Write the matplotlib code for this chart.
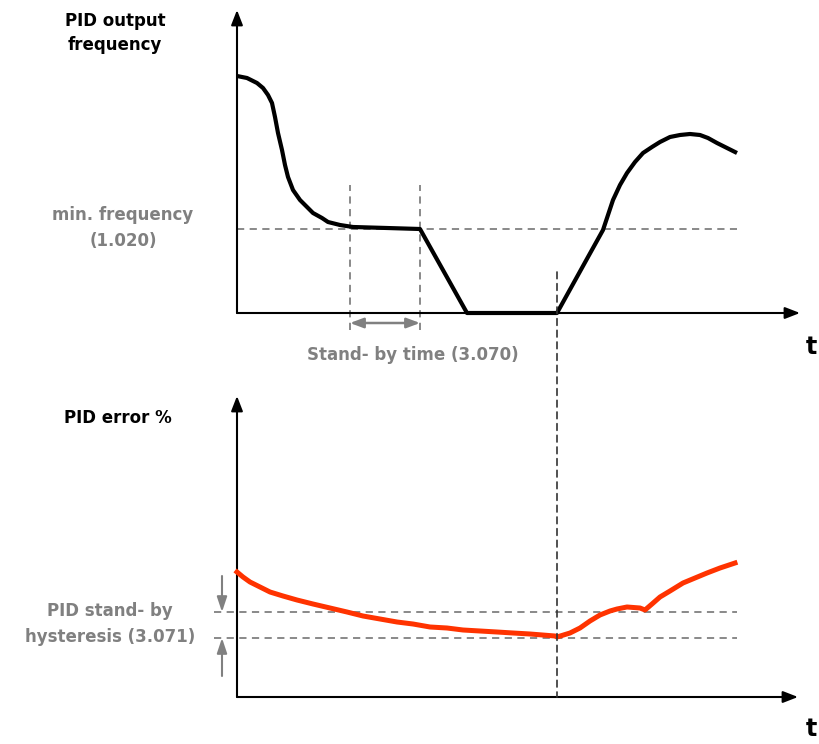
import matplotlib.pyplot as plt
from matplotlib.patches import ConnectionPatch

# top panel: PID output frequency (t, f)
freq_t = [0, 10, 20, 26, 31, 35, 38, 41, 45, 48, 51, 56, 63, 70, 76, 85, 91,
          103, 116, 150, 183, 230, 320,
          351, 366, 371, 376, 383, 390, 398, 406, 415, 423, 433, 443, 453,
          463, 471, 480, 490, 500]
freq_f = [237, 235, 230, 225, 218, 210, 196, 180, 163, 148, 136, 123, 113, 106, 100, 95, 91,
          88, 86, 85, 84, 0, 0,
          56, 83, 98, 113, 128, 140, 151, 160, 166, 171, 176, 178, 179,
          178, 175, 170, 165, 160]
min_freq = 84
standby_start = 113
standby_end = 183
stop_t = 320

# bottom panel: PID error %
err_t = [0, 6, 13, 23, 33, 46, 60, 76, 93, 110, 126, 143, 160, 176, 193, 210,
         226, 243, 260, 276, 293, 318, 320,
         333, 343, 353, 363, 373, 380, 390, 403, 408, 415, 423, 433, 446, 458,
         470, 483, 498]
err_e = [125, 120, 115, 110, 105, 101, 97, 93, 89, 85, 81, 78, 75, 73, 70, 69,
         67, 66, 65, 64, 63, 61, 60,
         64, 69, 76, 82, 86, 88, 90, 89, 87, 93, 100, 106, 114, 119,
         124, 129, 134]
hyst_hi = 85
hyst_lo = 59

W, H = 819, 744
GRAY = '#808080'
RED = '#ff3300'
FONT = 'DejaVu Sans'

fig = plt.figure(figsize=(W / 100, H / 100), dpi=100)


def px_axes(x0, y0, x1, y1):
    # x0,y0 = origin pixel, x1 = x arrow tip, y1 = y arrow tip
    ax = fig.add_axes([x0 / W, 1 - y0 / H, (x1 - x0) / W, (y0 - y1) / H])
    ax.set_xlim(0, x1 - x0)
    ax.set_ylim(0, y0 - y1)
    ax.axis('off')
    arr = dict(arrowstyle='-|>,head_length=0.9,head_width=0.35', color='black', lw=1.5,
               shrinkA=0, shrinkB=0)
    ax.annotate('', xy=(1, 0), xytext=(0, 0), xycoords='axes fraction', arrowprops=arr)
    ax.annotate('', xy=(0, 1), xytext=(0, 0), xycoords='axes fraction', arrowprops=arr)
    return ax


ax1 = px_axes(237, 313, 800, 10)
ax2 = px_axes(237, 697, 798, 396)

# top panel
ax1.plot([0, 500], [min_freq, min_freq], ls=(0, (4, 3)), color=GRAY, lw=1.3)
for tt in (standby_start, standby_end):
    ax1.plot([tt, tt], [-17, 128], ls=(0, (4, 3)), color=GRAY, lw=1.3, clip_on=False)
ax1.plot(freq_t, freq_f, color='black', lw=3, solid_joinstyle='round',
         solid_capstyle='butt', clip_on=False, zorder=3)
ax1.annotate('', xy=(standby_start, -10), xytext=(standby_end, -10),
             arrowprops=dict(arrowstyle='<|-|>,head_length=0.8,head_width=0.3',
                             color=GRAY, lw=1.8, shrinkA=0, shrinkB=0),
             annotation_clip=False)

# bottom panel
for v in (hyst_hi, hyst_lo):
    ax2.plot([-23, 500], [v, v], ls=(0, (4, 3)), color=GRAY, lw=1.3, clip_on=False)
ax2.plot(err_t, err_e, color=RED, lw=3.6, solid_joinstyle='round', clip_on=False, zorder=3)
ha = dict(arrowstyle='-|>,head_length=0.9,head_width=0.3', color=GRAY, lw=1.5,
          shrinkA=0, shrinkB=0)
ax2.annotate('', xy=(-15, hyst_hi), xytext=(-15, 121), arrowprops=ha, annotation_clip=False)
ax2.annotate('', xy=(-15, hyst_lo), xytext=(-15, 21), arrowprops=ha, annotation_clip=False)

# stop line across both panels
con = ConnectionPatch(xyA=(stop_t, 41), coordsA=ax1.transData,
                      xyB=(stop_t, 0), coordsB=ax2.transData,
                      ls=(0, (4, 3)), color='#333333', lw=1.2, zorder=1)
fig.add_artist(con)

txt = dict(fontfamily=FONT, fontweight='bold', fontsize=12, ha='center', va='center',
           linespacing=1.5)
fig.text(115 / W, 1 - 33 / H, 'PID output\nfrequency', color='black', **txt)
fig.text(123 / W, 1 - 228 / H, 'min. frequency\n(1.020)', color=GRAY, **txt)
fig.text(413 / W, 1 - 355 / H, 'Stand- by time (3.070)', color=GRAY, **txt)
fig.text(118 / W, 1 - 418 / H, 'PID error %', color='black', **txt)
fig.text(110 / W, 1 - 624 / H, 'PID stand- by\nhysteresis (3.071)', color=GRAY, **txt)
tkw = dict(fontfamily=FONT, fontweight='bold', fontsize=17, ha='center', va='center')
fig.text(811 / W, 1 - 347 / H, 't', **tkw)
fig.text(811 / W, 1 - 729 / H, 't', **tkw)

fig.savefig('out.png', dpi=100)
